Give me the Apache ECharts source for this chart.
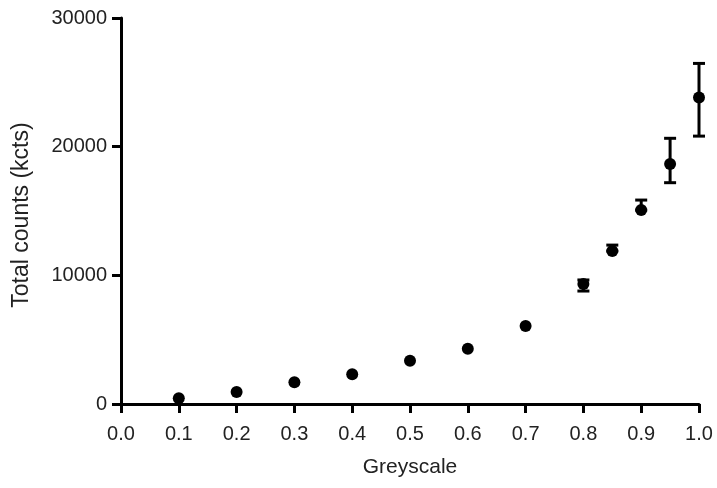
<!DOCTYPE html>
<html>
<head>
<meta charset="utf-8">
<script src="https://cdn.jsdelivr.net/npm/echarts@6/dist/echarts.min.js"></script>
<style>html,body{margin:0;padding:0;background:#fff}#c{width:717px;height:488px}</style>
</head>
<body>
<div id="c"></div>
<script>
const greyscale = [0.1, 0.2, 0.3, 0.4, 0.5, 0.6, 0.7, 0.8, 0.85, 0.9, 0.95, 1.0];
const totalCounts = [450, 930, 1690, 2310, 3370, 4300, 6060, 9320, 11890, 15070, 18650, 23830];
const errLow = [450, 930, 1690, 2310, 3370, 4300, 6060, 8780, 11890, 15070, 17200, 20820];
const errHigh = [450, 930, 1690, 2310, 3370, 4300, 6060, 9640, 12350, 15850, 20650, 26470];
const xTicks = [0.0, 0.1, 0.2, 0.3, 0.4, 0.5, 0.6, 0.7, 0.8, 0.9, 1.0];
const yTicks = [0, 10000, 20000, 30000];

const points = greyscale.map((g, i) => [g, totalCounts[i]]);
const errData = greyscale.map((g, i) => [g, errLow[i], errHigh[i]]);

const font = '"Liberation Sans", Arial, sans-serif';
const chart = echarts.init(document.getElementById('c'), null, {renderer: 'canvas'});
chart.setOption({
  animation: false,
  grid: {left: 121, right: 18, top: 18, bottom: 84},
  xAxis: {
    type: 'value', min: xTicks[0], max: xTicks[xTicks.length - 1], interval: 0.1,
    name: 'Greyscale', nameLocation: 'middle', nameGap: 53,
    nameTextStyle: {fontFamily: font, fontSize: 21, color: '#222'},
    axisLine: {onZero: false, lineStyle: {color: '#000', width: 3}},
    axisTick: {length: 9, lineStyle: {color: '#000', width: 3}},
    axisLabel: {fontFamily: font, fontSize: 20, color: '#222', margin: 20,
      formatter: v => v.toFixed(1)},
    splitLine: {show: false}
  },
  yAxis: {
    type: 'value', min: yTicks[0], max: yTicks[yTicks.length - 1], interval: 10000,
    name: 'Total counts (kcts)', nameLocation: 'middle', nameGap: 88, nameRotate: 90,
    nameTextStyle: {fontFamily: font, fontSize: 23, color: '#222', padding: [0, 8, 0, 0]},
    axisLine: {show: true, lineStyle: {color: '#000', width: 3}},
    axisTick: {show: true, length: 9, lineStyle: {color: '#000', width: 3}},
    axisLabel: {fontFamily: font, fontSize: 20, color: '#222', margin: 14,
      formatter: v => String(v)},
    splitLine: {show: false}
  },
  series: [
    {
      type: 'custom',
      data: errData,
      encode: {x: 0, y: [1, 2]},
      clip: false,
      renderItem: function (params, api) {
        const x = api.value(0);
        const lo = api.coord([x, api.value(1)]);
        const hi = api.coord([x, api.value(2)]);
        if (Math.abs(hi[1] - lo[1]) < 1) return null;
        const hw = 6;
        const st = {stroke: '#000', lineWidth: 3};
        return {
          type: 'group',
          children: [
            {type: 'line', shape: {x1: lo[0], y1: lo[1], x2: hi[0], y2: hi[1]}, style: st},
            {type: 'line', shape: {x1: lo[0] - hw, y1: lo[1], x2: lo[0] + hw, y2: lo[1]}, style: st},
            {type: 'line', shape: {x1: hi[0] - hw, y1: hi[1], x2: hi[0] + hw, y2: hi[1]}, style: st}
          ]
        };
      },
      z: 2
    },
    {
      type: 'scatter',
      data: points,
      symbol: 'circle',
      symbolSize: 12,
      itemStyle: {color: '#000', opacity: 1},
      clip: false,
      z: 3
    }
  ]
});
</script>
</body>
</html>
